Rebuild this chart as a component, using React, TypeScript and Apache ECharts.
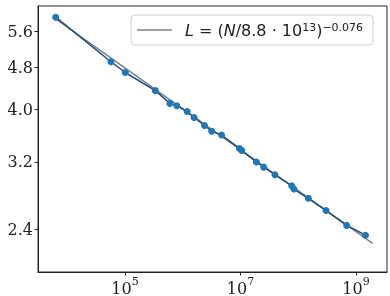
import { useEffect, useRef } from 'react';
import * as echarts from 'echarts';

// Model size N (parameters) and loss L
const paramsN = [6.3e3, 5.7e4, 1.01e5, 3.35e5, 6.0e5, 7.9e5, 1.19e6, 1.57e6, 2.38e6, 3.17e6, 4.69e6, 9.6e6, 1.05e7, 1.88e7, 2.52e7, 3.95e7, 7.7e7, 8.4e7, 1.49e8, 3.03e8, 6.9e8, 1.46e9];
const loss = [5.94, 4.91, 4.69, 4.34, 4.11, 4.07, 3.97, 3.87, 3.74, 3.65, 3.59, 3.39, 3.36, 3.20, 3.13, 3.03, 2.89, 2.85, 2.74, 2.60, 2.44, 2.34];

// Power-law fit endpoints
const fitN = [6.3e3, 1.94e9];
const fitL = [5.90, 2.26];

// Tick labels
const xTickExponents = [5, 7, 9];
const yTickLabels = [2.4, 3.2, 4.0, 4.8, 5.6];

const fitName = 'fit';

export default function App() {
  const ref = useRef<HTMLDivElement>(null);
  useEffect(() => {
    const chart = echarts.init(ref.current!, null, { renderer: 'svg' });
    const toPt = (n: number, l: number) => [Math.log10(n), Math.log(l)];
    const axisColor = '#222';
    chart.setOption({
      animation: false,
      grid: {
        left: 38, right: 3, top: 6, bottom: 24,
        show: true, borderColor: axisColor, borderWidth: 1, backgroundColor: 'transparent',
      },
      legend: {
        data: [{ name: fitName, icon: 'rect', itemStyle: { color: '#808080' } }],
        left: 131, top: 15,
        padding: [7, 10, 7, 6],
        borderColor: '#d0d0d0', borderWidth: 1, borderRadius: 4,
        itemWidth: 35, itemHeight: 1.6,
        formatter: () => '{i|L} = ({i|N}/8.8 · 10{s|13}){s|−0.076}',
        textStyle: {
          fontFamily: 'DejaVu Sans', fontSize: 16, color: '#222',
          padding: [0, 0, 0, 8],
          rich: {
            i: { fontFamily: 'DejaVu Sans', fontSize: 16, fontStyle: 'italic', color: '#222' },
            s: { fontFamily: 'DejaVu Sans', fontSize: 11, color: '#222', verticalAlign: 'top', lineHeight: 12 },
          },
        },
      },
      xAxis: {
        type: 'value', min: 3.4935, max: 9.537,
        axisLine: { show: true, lineStyle: { color: axisColor } },
        splitLine: { show: false },
        axisTick: { show: true, customValues: xTickExponents, length: 3.5, inside: false, lineStyle: { color: axisColor } },
        axisLabel: {
          customValues: xTickExponents,
          margin: 4,
          formatter: (v: number) => `{b|10}{s|${Math.round(v)}}`,
          rich: {
            b: { fontFamily: 'DejaVu Serif', fontSize: 16, color: '#222', lineHeight: 20, verticalAlign: 'bottom' },
            s: { fontFamily: 'DejaVu Serif', fontSize: 11, color: '#222', lineHeight: 12, verticalAlign: 'top' },
          },
        },
      },
      yAxis: {
        type: 'value', min: 0.6929, max: 1.8296,
        axisLine: { show: true, lineStyle: { color: axisColor } },
        splitLine: { show: false },
        axisTick: { show: true, customValues: yTickLabels.map(Math.log), length: 3.5, lineStyle: { color: axisColor } },
        axisLabel: {
          customValues: yTickLabels.map(Math.log),
          margin: 5,
          fontFamily: 'DejaVu Serif', fontSize: 16, color: '#222',
          formatter: (v: number) => Math.exp(v).toFixed(1),
        },
      },
      series: [
        {
          type: 'line', name: fitName,
          data: fitN.map((n, i) => toPt(n, fitL[i])),
          symbol: 'none',
          lineStyle: { color: '#808080', width: 1.5 },
          itemStyle: { color: '#808080' },
          z: 2,
        },
        {
          type: 'line', name: 'data',
          data: paramsN.map((n, i) => toPt(n, loss[i])),
          symbol: 'circle', symbolSize: 7,
          itemStyle: { color: '#1f77b4' },
          lineStyle: { color: '#1b4f7a', width: 1.5 },
          z: 3,
        },
      ],
    });
    return () => chart.dispose();
  }, []);
  return <div ref={ref} style={{ position: 'fixed', left: 0, top: 0, width: 390, height: 296 }} />;
}
